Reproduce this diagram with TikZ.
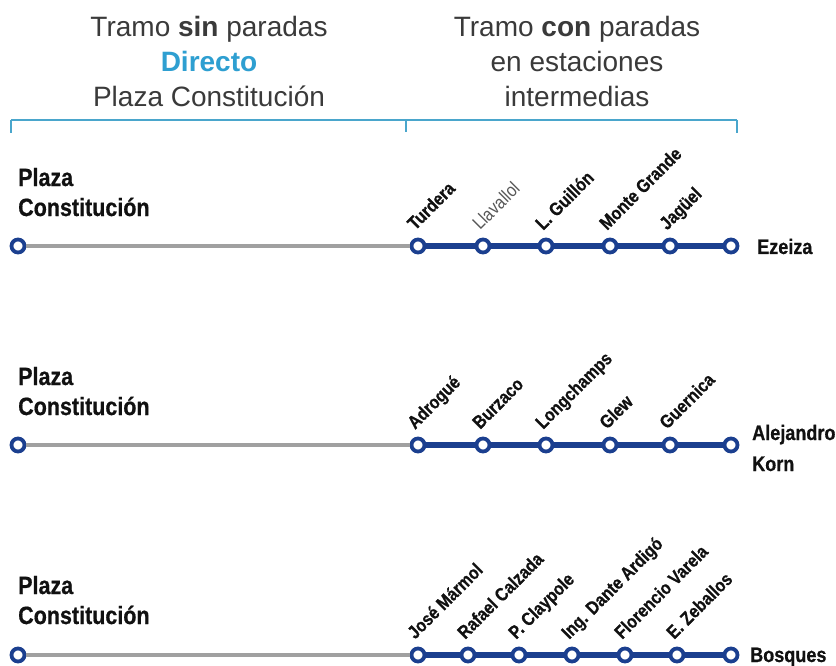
\documentclass[tikz,border=0pt]{standalone}
\usepackage{fontspec}
\setmainfont{Liberation Sans}
\newfontfamily\condf[FakeStretch=0.86, BoldFeatures={FakeBold=0.6}]{Liberation Sans}
\usetikzlibrary{calc}
\definecolor{navy}{HTML}{1B3F8F}
\definecolor{lgray}{HTML}{A0A0A0}
\definecolor{skyb}{HTML}{2E9FD1}
\definecolor{brk}{HTML}{4AA6CC}
\definecolor{txt}{HTML}{3A3A3A}
\definecolor{lbltxt}{HTML}{111111}
\tikzset{
  stn/.style={circle, draw=navy, line width=3.8pt, fill=white, minimum size=13pt, inner sep=0pt},
  grayline/.style={draw=lgray, line width=4.5pt},
  blueline/.style={draw=navy, line width=6pt},
  hdr/.style={font=\fontsize{28}{28}\selectfont, text=txt, anchor=base, inner sep=0pt},
  lbl/.style={font=\condf\bfseries\fontsize{18.5}{18.5}\selectfont, text=lbltxt, rotate=45, anchor=base west, inner sep=0pt},
  lbllight/.style={font=\condf\fontsize{18.5}{18.5}\selectfont, text=txt!85, rotate=45, anchor=base west, inner sep=0pt},
  plz/.style={font=\condf\bfseries\fontsize{25}{25}\selectfont, text=lbltxt, anchor=base west, inner sep=0pt},
  endl/.style={font=\condf\bfseries\fontsize{21}{21}\selectfont, text=lbltxt, anchor=base west, inner sep=0pt},
  brack/.style={draw=brk, line width=1.8pt}
}
\begin{document}
\begin{tikzpicture}[x=1pt,y=-1pt]
\useasboundingbox[fill=white] (0,0) rectangle (836,666);
% header
\node[hdr] (h1) at (209,37) {Tramo \textbf{sin} paradas};
\node[hdr, text=skyb] (h2) at (209,72) {\textbf{Directo}};
\node[hdr] (h3) at (209,107) {Plaza Constitución};
\node[hdr] (h4) at (577,37) {Tramo \textbf{con} paradas};
\node[hdr] (h5) at (577,72) {en estaciones};
\node[hdr] (h6) at (577,107) {intermedias};
% bracket
\coordinate (bl) at (11,120);
\coordinate (bm) at (406,120);
\coordinate (br) at (737,120);
\draw[brack] (bl) -- (br);
\draw[brack] (bl) -- ++(0,13);
\draw[brack] (bm) -- ++(0,12);
\draw[brack] (br) -- ++(0,13);

% ---------- row 1 ----------
\node[plz] (p1a) at (18,186) {Plaza};
\node[plz] (p1b) at (18,216) {Constitución};
\node[stn] (a0) at (18,246) {};
\node[stn] (a1) at (418,246) {};
\node[stn] (a2) at (483,246) {};
\node[stn] (a3) at (546,246) {};
\node[stn] (a4) at (610,246) {};
\node[stn] (a5) at (670,246) {};
\node[stn] (a6) at (731,246) {};
\draw[grayline] (a0) -- (a1);
\draw[blueline] (a1) -- (a2);
\draw[blueline] (a2) -- (a3);
\draw[blueline] (a3) -- (a4);
\draw[blueline] (a4) -- (a5);
\draw[blueline] (a5) -- (a6);
\node[lbl] (t1) at ($(a1)+(-3,-15)$) {Turdera};
\node[lbllight] (t2) at ($(a2)+(-3,-15)$) {Llavallol};
\node[lbl] (t3) at ($(a3)+(-3,-15)$) {L. Guillón};
\node[lbl] (t4) at ($(a4)+(-3,-15)$) {Monte Grande};
\node[lbl] (t5) at ($(a5)+(-3,-15)$) {Jagüel};
\node[endl] (e1) at ($(a6)+(26,8)$) {Ezeiza};

% ---------- row 2 ----------
\node[plz] (p2a) at (18,385) {Plaza};
\node[plz] (p2b) at (18,415) {Constitución};
\node[stn] (b0) at (18,445) {};
\node[stn] (b1) at (418,445) {};
\node[stn] (b2) at (483,445) {};
\node[stn] (b3) at (546,445) {};
\node[stn] (b4) at (610,445) {};
\node[stn] (b5) at (670,445) {};
\node[stn] (b6) at (731,445) {};
\draw[grayline] (b0) -- (b1);
\draw[blueline] (b1) -- (b2);
\draw[blueline] (b2) -- (b3);
\draw[blueline] (b3) -- (b4);
\draw[blueline] (b4) -- (b5);
\draw[blueline] (b5) -- (b6);
\node[lbl] (u1) at ($(b1)+(-3,-15)$) {Adrogué};
\node[lbl] (u2) at ($(b2)+(-3,-15)$) {Burzaco};
\node[lbl] (u3) at ($(b3)+(-3,-15)$) {Longchamps};
\node[lbl] (u4) at ($(b4)+(-3,-15)$) {Glew};
\node[lbl] (u5) at ($(b5)+(-3,-15)$) {Guernica};
\node[endl] (e2a) at ($(b6)+(21,-5)$) {Alejandro};
\node[endl] (e2b) at ($(b6)+(21,26)$) {Korn};

% ---------- row 3 ----------
\node[plz] (p3a) at (18,594) {Plaza};
\node[plz] (p3b) at (18,624) {Constitución};
\node[stn] (c0) at (18,655) {};
\node[stn] (c1) at (418,655) {};
\node[stn] (c2) at (468,655) {};
\node[stn] (c3) at (519,655) {};
\node[stn] (c4) at (572,655) {};
\node[stn] (c5) at (625,655) {};
\node[stn] (c6) at (677,655) {};
\node[stn] (c7) at (731,655) {};
\draw[grayline] (c0) -- (c1);
\draw[blueline] (c1) -- (c2);
\draw[blueline] (c2) -- (c3);
\draw[blueline] (c3) -- (c4);
\draw[blueline] (c4) -- (c5);
\draw[blueline] (c5) -- (c6);
\draw[blueline] (c6) -- (c7);
\node[lbl] (v1) at ($(c1)+(-3,-15)$) {José Mármol};
\node[lbl] (v2) at ($(c2)+(-3,-15)$) {Rafael Calzada};
\node[lbl] (v3) at ($(c3)+(-3,-15)$) {P. Claypole};
\node[lbl] (v4) at ($(c4)+(-3,-15)$) {Ing. Dante Ardigó};
\node[lbl] (v5) at ($(c5)+(-3,-15)$) {Florencio Varela};
\node[lbl] (v6) at ($(c6)+(-3,-15)$) {E. Zeballos};
\node[endl] (e3) at ($(c7)+(19,7)$) {Bosques};
\end{tikzpicture}
\end{document}
